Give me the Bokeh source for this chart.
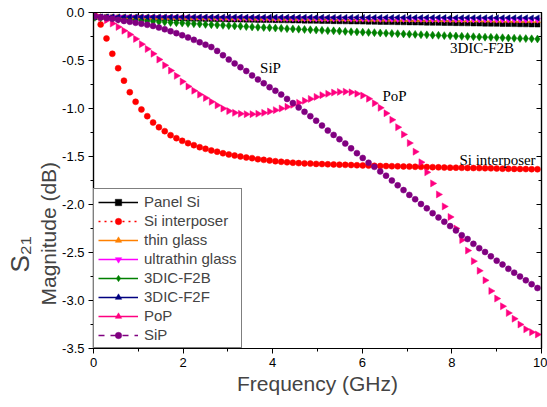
import math
from bokeh.plotting import figure
from bokeh.models import (ColumnDataSource, Range1d, LinearAxis, FixedTicker,
                          PrintfTickFormatter, Legend, LegendItem, Label, Title,
                          CDSView, IndexFilter)
from bokeh.embed import file_html
from bokeh.resources import INLINE

freq = [0.03, 0.16, 0.29, 0.42, 0.55, 0.68, 0.81, 0.94, 1.07, 1.20,
        1.33, 1.46, 1.59, 1.72, 1.85, 1.98, 2.11, 2.24, 2.37, 2.50,
        2.63, 2.76, 2.89, 3.02, 3.15, 3.28, 3.41, 3.54, 3.67, 3.80,
        3.93, 4.06, 4.19, 4.32, 4.45, 4.58, 4.71, 4.84, 4.97, 5.10,
        5.23, 5.36, 5.49, 5.62, 5.75, 5.88, 6.01, 6.14, 6.27, 6.40,
        6.53, 6.66, 6.79, 6.92, 7.05, 7.18, 7.31, 7.44, 7.57, 7.70,
        7.83, 7.96, 8.09, 8.22, 8.35, 8.48, 8.61, 8.74, 8.87, 9.00,
        9.13, 9.26, 9.39, 9.52, 9.65, 9.78, 9.91]

panel_si = [-0.048, -0.049, -0.050, -0.051, -0.052, -0.053, -0.054, -0.055, -0.056, -0.057,
            -0.058, -0.059, -0.060, -0.061, -0.062, -0.063, -0.064, -0.065, -0.066, -0.067,
            -0.068, -0.070, -0.071, -0.072, -0.073, -0.074, -0.075, -0.076, -0.077, -0.078,
            -0.079, -0.080, -0.081, -0.082, -0.083, -0.084, -0.085, -0.086, -0.087, -0.088,
            -0.089, -0.090, -0.091, -0.092, -0.093, -0.094, -0.095, -0.096, -0.097, -0.098,
            -0.099, -0.100, -0.101, -0.102, -0.103, -0.104, -0.105, -0.106, -0.107, -0.108,
            -0.109, -0.110, -0.111, -0.112, -0.113, -0.114, -0.115, -0.116, -0.117, -0.118,
            -0.119, -0.120, -0.121, -0.122, -0.123, -0.124, -0.125]

si_interposer = [-0.03, -0.125, -0.27, -0.43, -0.58, -0.71, -0.83, -0.93, -1.01, -1.08,
                 -1.146, -1.195, -1.236, -1.278, -1.309, -1.337, -1.361, -1.382, -1.403, -1.42,
                 -1.437, -1.45, -1.466, -1.479, -1.49, -1.50, -1.51, -1.517, -1.528, -1.535,
                 -1.542, -1.549, -1.555, -1.56, -1.565, -1.569, -1.572, -1.574, -1.577, -1.579,
                 -1.581, -1.583, -1.585, -1.587, -1.589, -1.591, -1.593, -1.595, -1.597, -1.599,
                 -1.600, -1.601, -1.602, -1.604, -1.605, -1.607, -1.608, -1.610, -1.611, -1.613,
                 -1.615, -1.616, -1.617, -1.618, -1.619, -1.620, -1.621, -1.622, -1.623, -1.625,
                 -1.627, -1.628, -1.629, -1.630, -1.631, -1.632, -1.633]

thin_glass = [-0.048, -0.049, -0.049, -0.050, -0.050, -0.051, -0.051, -0.052, -0.052, -0.053,
              -0.053, -0.054, -0.054, -0.055, -0.055, -0.056, -0.056, -0.057, -0.057, -0.058,
              -0.058, -0.059, -0.059, -0.060, -0.060, -0.061, -0.061, -0.062, -0.062, -0.063,
              -0.063, -0.064, -0.064, -0.065, -0.065, -0.066, -0.066, -0.067, -0.067, -0.068,
              -0.068, -0.069, -0.069, -0.070, -0.070, -0.071, -0.071, -0.072, -0.072, -0.073,
              -0.073, -0.074, -0.074, -0.075, -0.075, -0.076, -0.076, -0.077, -0.077, -0.078,
              -0.078, -0.079, -0.079, -0.080, -0.080, -0.081, -0.081, -0.082, -0.082, -0.083,
              -0.083, -0.084, -0.084, -0.085, -0.085, -0.086, -0.087]

ultrathin_glass = [-0.047, -0.047, -0.048, -0.048, -0.049, -0.049, -0.049, -0.050, -0.050, -0.051,
                   -0.051, -0.051, -0.052, -0.052, -0.053, -0.053, -0.053, -0.054, -0.054, -0.055,
                   -0.055, -0.055, -0.056, -0.056, -0.057, -0.057, -0.057, -0.058, -0.058, -0.059,
                   -0.059, -0.059, -0.060, -0.060, -0.061, -0.061, -0.061, -0.062, -0.062, -0.063,
                   -0.063, -0.063, -0.064, -0.064, -0.065, -0.065, -0.065, -0.066, -0.066, -0.067,
                   -0.067, -0.067, -0.068, -0.068, -0.069, -0.069, -0.069, -0.070, -0.070, -0.071,
                   -0.071, -0.071, -0.072, -0.072, -0.073, -0.073, -0.073, -0.074, -0.074, -0.075,
                   -0.075, -0.075, -0.076, -0.076, -0.077, -0.077, -0.077]

dic_f2b = [-0.050, -0.055, -0.060, -0.065, -0.070, -0.074, -0.078, -0.082, -0.086, -0.090,
           -0.094, -0.097, -0.100, -0.104, -0.107, -0.110, -0.114, -0.117, -0.120, -0.124,
           -0.127, -0.130, -0.134, -0.137, -0.140, -0.143, -0.147, -0.150, -0.153, -0.156,
           -0.159, -0.162, -0.165, -0.168, -0.171, -0.174, -0.177, -0.180, -0.183, -0.186,
           -0.189, -0.191, -0.194, -0.197, -0.200, -0.202, -0.205, -0.208, -0.210, -0.213,
           -0.216, -0.218, -0.221, -0.223, -0.226, -0.228, -0.231, -0.233, -0.236, -0.238,
           -0.241, -0.243, -0.245, -0.248, -0.250, -0.252, -0.255, -0.257, -0.259, -0.261,
           -0.263, -0.266, -0.268, -0.270, -0.272, -0.274, -0.276]

dic_f2f = [-0.045, -0.045, -0.045, -0.045, -0.046, -0.046, -0.046, -0.046, -0.046, -0.046,
           -0.046, -0.046, -0.047, -0.047, -0.047, -0.047, -0.047, -0.047, -0.047, -0.048,
           -0.048, -0.048, -0.048, -0.048, -0.048, -0.048, -0.049, -0.049, -0.049, -0.049,
           -0.049, -0.049, -0.049, -0.050, -0.050, -0.050, -0.050, -0.050, -0.050, -0.050,
           -0.051, -0.051, -0.051, -0.051, -0.051, -0.051, -0.051, -0.052, -0.052, -0.052,
           -0.052, -0.052, -0.052, -0.052, -0.053, -0.053, -0.053, -0.053, -0.053, -0.053,
           -0.053, -0.054, -0.054, -0.054, -0.054, -0.054, -0.054, -0.054, -0.055, -0.055,
           -0.055, -0.055, -0.055, -0.055, -0.055, -0.056, -0.056]

pop = [-0.03, -0.055, -0.08, -0.115, -0.15, -0.19, -0.23, -0.275, -0.33, -0.38,
       -0.43, -0.49, -0.55, -0.605, -0.66, -0.72, -0.77, -0.815, -0.855, -0.89,
       -0.93, -0.967, -1.0, -1.027, -1.045, -1.055, -1.059, -1.059, -1.055, -1.045,
       -1.031, -1.017, -1.0, -0.983, -0.962, -0.941, -0.92, -0.9, -0.879, -0.861,
       -0.847, -0.834, -0.827, -0.825, -0.832, -0.846, -0.865, -0.898, -0.945, -0.993,
       -1.05, -1.118, -1.195, -1.27, -1.36, -1.45, -1.56, -1.665, -1.78, -1.895,
       -2.02, -2.13, -2.25, -2.37, -2.48, -2.59, -2.69, -2.79, -2.90, -2.98,
       -3.06, -3.13, -3.19, -3.25, -3.30, -3.33, -3.354]

sip = [-0.04, -0.05, -0.057, -0.066, -0.075, -0.088, -0.097, -0.107, -0.117, -0.128,
       -0.14, -0.157, -0.175, -0.195, -0.215, -0.237, -0.26, -0.285, -0.31, -0.335,
       -0.36, -0.40, -0.445, -0.49, -0.53, -0.57, -0.61, -0.655, -0.697, -0.737,
       -0.778, -0.815, -0.855, -0.90, -0.943, -0.99, -1.035, -1.08, -1.127, -1.178,
       -1.23, -1.275, -1.32, -1.365, -1.415, -1.465, -1.515, -1.565, -1.608, -1.655,
       -1.70, -1.75, -1.80, -1.85, -1.90, -1.945, -1.995, -2.04, -2.09, -2.135,
       -2.18, -2.225, -2.27, -2.32, -2.36, -2.41, -2.455, -2.495, -2.54, -2.585,
       -2.625, -2.67, -2.71, -2.75, -2.79, -2.83, -2.87]

x_ticks = [0, 2, 4, 6, 8, 10]
x_minor = [1, 3, 5, 7, 9]
y_ticks = [0.0, -0.5, -1.0, -1.5, -2.0, -2.5, -3.0, -3.5]
y_minor = [-0.25, -0.75, -1.25, -1.75, -2.25, -2.75, -3.25]

series = [
    ("Panel Si", panel_si, "#000000", "square", 0.0, 5, "solid"),
    ("Si interposer", si_interposer, "#FF0000", "circle", 0.0, 6, "dotted"),
    ("thin glass", thin_glass, "#FF8000", "triangle", 0.0, 6, "solid"),
    ("ultrathin glass", ultrathin_glass, "#FF00FF", "inverted_triangle", 0.0, 6, "solid"),
    ("3DIC-F2B", dic_f2b, "#008000", "diamond", 0.0, 8, "solid"),
    ("3DIC-F2F", dic_f2f, "#000080", "triangle", math.pi / 2, 6, "solid"),
    ("PoP", pop, "#FF0080", "triangle", -math.pi / 2, 7, "solid"),
    ("SiP", sip, "#800080", "circle", 0.0, 6, "dashed"),
]

SANS = "Liberation Sans"
SERIF = "Liberation Serif"

p = figure(width=547, height=407, x_range=Range1d(0, 10), y_range=Range1d(-3.5, 0),
           output_backend="svg", toolbar_location=None,
           min_border_left=93, min_border_right=6, min_border_top=12, min_border_bottom=59)
p.xgrid.visible = False
p.ygrid.visible = False
p.outline_line_color = "black"
p.outline_line_width = 1.2
p.background_fill_color = "white"

def style_axis(ax, ticks, minor, show_labels, inward):
    ax.ticker = FixedTicker(ticks=ticks, minor_ticks=minor)
    ax.axis_line_color = "black"
    ax.axis_line_width = 1.2
    ax.major_tick_line_color = "black"
    ax.minor_tick_line_color = "black"
    if inward:
        ax.major_tick_in = 5
        ax.major_tick_out = 0
        ax.minor_tick_in = 3
        ax.minor_tick_out = 0
    else:
        ax.major_tick_in = 0
        ax.major_tick_out = 5
        ax.minor_tick_in = 0
        ax.minor_tick_out = 3
    if show_labels:
        ax.major_label_text_font = SANS
        ax.major_label_text_font_size = "13px"
        ax.major_label_text_color = "black"
        ax.major_label_standoff = 4
    else:
        ax.major_label_text_color = None
        ax.major_label_text_font_size = "1px"
        ax.major_label_standoff = 0

style_axis(p.xaxis[0], x_ticks, x_minor, True, False)
style_axis(p.yaxis[0], y_ticks, y_minor, True, False)
p.yaxis[0].formatter = PrintfTickFormatter(format="%.1f")

top_ax = LinearAxis()
style_axis(top_ax, x_ticks, x_minor, False, True)
p.add_layout(top_ax, "above")
right_ax = LinearAxis()
style_axis(right_ax, y_ticks, y_minor, False, True)
p.add_layout(right_ax, "right")

items = []
for name, ys, color, marker, ang, size, dash in series:
    src = ColumnDataSource(dict(x=freq, y=ys))
    sc = p.scatter("x", "y", source=src, marker=marker, angle=ang, size=size,
                   fill_color=color, line_color=color, line_width=0.5)
    # legend-only line: a one-point view of the same data draws nothing in the plot
    ln = p.line("x", "y", source=src, view=CDSView(filter=IndexFilter([0])),
                line_color=color, line_width=1.5, line_dash=dash)
    items.append(LegendItem(label=name, renderers=[ln, sc]))

legend = Legend(items=items, location="bottom_left", margin=0, padding=4, spacing=2,
                label_height=16, glyph_height=16, glyph_width=40, label_standoff=6,
                label_text_font=SANS, label_text_font_size="15px",
                border_line_color="black", border_line_width=1.2,
                background_fill_color="white", background_fill_alpha=1.0)
p.add_layout(legend, "center")

def px2x(px):
    return (px - 93) / 44.8

def py2y(py):
    return -(py - 12) / 96.0

annotations = [
    ("SiP", 270, 67),
    ("PoP", 394, 95),
    ("3DIC-F2B", 481.5, 47),
    ("Si interposer", 497, 159.5),
]
for txt, ax_, ay_ in annotations:
    p.add_layout(Label(x=px2x(ax_), y=py2y(ay_), text=txt, text_font=SERIF,
                       text_font_size="15px", text_color="black",
                       text_align="center", text_baseline="middle"))

xtitle = Title(text="Frequency (GHz)", align="center", text_font=SANS,
               text_font_size="21px", text_font_style="normal", standoff=0)
p.add_layout(xtitle, "below")
ytitle = Title(text="Magnitude (dB)", align="left", offset=43, text_font=SANS,
               text_font_size="21px", text_font_style="normal", standoff=0)
p.add_layout(ytitle, "left")
stitle = Title(text="S\u2082\u2081", align="left", offset=76, text_font=SANS,
               text_font_size="26px", text_font_style="normal", standoff=0)
p.add_layout(stitle, "left")

open("out.html", "w").write(file_html(p, INLINE))
